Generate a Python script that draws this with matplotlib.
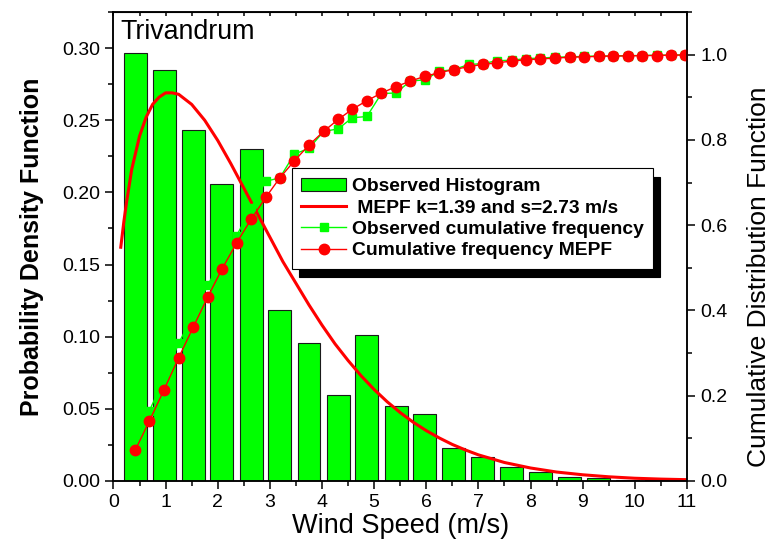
import matplotlib
matplotlib.use("Agg")
import matplotlib.pyplot as plt
from matplotlib.ticker import MultipleLocator

plt.rcParams['font.family'] = ['Liberation Sans', 'DejaVu Sans']

# histogram (bin centres, m/s) and observed densities
bin_centres = [0.42, 0.97, 1.53, 2.08, 2.64, 3.19, 3.75, 4.31, 4.86, 5.42,
               5.97, 6.53, 7.08, 7.64, 8.19, 8.75, 9.31, 9.86, 10.42]
hist_pdf = [0.2965, 0.2848, 0.2432, 0.2061, 0.230, 0.1187, 0.0956, 0.0597,
            0.1009, 0.0521, 0.0465, 0.0229, 0.0169, 0.0095, 0.006, 0.0025,
            0.0019, 0.0007, 0.0007]

# MEPF density curve
pdf_x = [0.14, 0.2, 0.25, 0.35, 0.5, 0.625, 0.75, 0.875, 1.0, 1.125, 1.25,
         1.5, 1.75, 2.0, 2.25, 2.5, 2.75, 3.0, 3.25, 3.5, 3.75, 4.0, 4.25,
         4.5, 4.75, 5.0, 5.25, 5.5, 5.75, 6.0, 6.25, 6.5, 6.75, 7.0, 7.5,
         8.0, 8.5, 9.0, 9.5, 10.0, 10.5, 11.0]
pdf_y = [0.162, 0.180, 0.193, 0.216, 0.239, 0.252, 0.261, 0.266, 0.269,
         0.269, 0.268, 0.261, 0.250, 0.236, 0.220, 0.203, 0.186, 0.169,
         0.152, 0.137, 0.122, 0.108, 0.095, 0.0835, 0.0729, 0.0634, 0.0549,
         0.0474, 0.0407, 0.0349, 0.0298, 0.0253, 0.0215, 0.0181, 0.0128,
         0.0090, 0.0062, 0.0043, 0.0029, 0.0019, 0.0013, 0.0009]

# cumulative frequencies
cdf_x = [0.42, 0.69, 0.97, 1.25, 1.53, 1.81, 2.08, 2.36, 2.64, 2.92, 3.19,
         3.47, 3.75, 4.03, 4.31, 4.58, 4.86, 5.14, 5.42, 5.69, 5.97, 6.25,
         6.53, 6.81, 7.08, 7.36, 7.64, 7.92, 8.19, 8.47, 8.75, 9.03, 9.31,
         9.58, 9.86, 10.14, 10.42, 10.69, 10.97]
obs_cdf = [0.077, 0.165, 0.24, 0.323, 0.39, 0.460, 0.52, 0.575, 0.64, 0.703,
           0.711, 0.767, 0.780, 0.820, 0.826, 0.852, 0.855, 0.909, 0.910,
           0.938, 0.941, 0.961, 0.965, 0.977, 0.979, 0.986, 0.987, 0.991,
           0.992, 0.994, 0.995, 0.996, 0.997, 0.997, 0.998, 0.998, 0.999,
           0.999, 1.000]
mepf_cdf = [0.073, 0.141, 0.214, 0.289, 0.361, 0.432, 0.497, 0.558, 0.614,
            0.665, 0.711, 0.751, 0.788, 0.820, 0.848, 0.872, 0.892, 0.910,
            0.925, 0.938, 0.949, 0.958, 0.965, 0.972, 0.977, 0.981, 0.985,
            0.988, 0.990, 0.992, 0.994, 0.995, 0.996, 0.997, 0.997, 0.998,
            0.998, 0.999, 0.999]

fig = plt.figure(figsize=(7.73, 5.48), dpi=100)
ax = fig.add_axes([0.1468, 0.1223, 0.7419, 0.8557])

bars = ax.bar(bin_centres, hist_pdf, width=0.44, color='#00ff00',
              edgecolor='#1a1a1a', linewidth=0.8, label='Observed Histogram')
line_pdf, = ax.plot(pdf_x, pdf_y, color='red', lw=2.2,
                    label=' MEPF k=1.39 and s=2.73 m/s')

ax.set_xlim(0, 11)
ax.set_ylim(0, 0.325)
ax.xaxis.set_major_locator(MultipleLocator(1))
ax.xaxis.set_minor_locator(MultipleLocator(0.5))
ax.yaxis.set_major_locator(MultipleLocator(0.05))
ax.yaxis.set_minor_locator(MultipleLocator(0.025))
ax.yaxis.set_major_formatter(matplotlib.ticker.FormatStrFormatter('%.2f'))
ax.tick_params(which='both', direction='out', width=1.1, labelsize=14)
ax.tick_params(which='major', length=6)
ax.tick_params(which='minor', length=3.5)
for s in ax.spines.values():
    s.set_linewidth(1.1)

top = ax.secondary_xaxis('top')
top.set_xticks([i * 0.5 for i in range(23)])
top.tick_params(direction='in', length=3, width=1.1, labeltop=False)

ax.set_xlabel('Wind Speed (m/s)', fontsize=19.5, labelpad=1)
ax.set_ylabel('Probability Density Function', fontsize=18,
              fontweight='bold', labelpad=13)
ax.text(0.012, 0.985, 'Trivandrum', transform=ax.transAxes, fontsize=19.3,
        va='top', ha='left')

ax2 = ax.twinx()
line_obs, = ax2.plot(cdf_x, obs_cdf, color='#00ff00', lw=1, marker='s',
                     ms=6, label='Observed cumulative frequency')
line_mepf, = ax2.plot(cdf_x, mepf_cdf, color='red', lw=1, marker='o',
                      ms=7.5, label='Cumulative frequency MEPF')
ax2.set_ylim(0, 1.1)
ax2.yaxis.set_major_locator(MultipleLocator(0.2))
ax2.yaxis.set_minor_locator(MultipleLocator(0.1))
ax2.yaxis.set_major_formatter(matplotlib.ticker.FormatStrFormatter('%.1f'))
ax2.tick_params(which='both', direction='out', width=1.1, labelsize=14)
ax2.tick_params(which='major', length=6)
ax2.tick_params(which='minor', length=3.5)
ax2.set_ylabel('Cumulative Distribution Function', fontsize=19)
ax2.yaxis.set_label_coords(1.104, 0.435)
for s in ax2.spines.values():
    s.set_linewidth(1.1)

leg = ax2.legend([bars, line_pdf, line_obs, line_mepf],
                 ['Observed Histogram', ' MEPF k=1.39 and s=2.73 m/s',
                  'Observed cumulative frequency', 'Cumulative frequency MEPF'],
                 loc='upper left', bbox_to_anchor=(0.311, 0.667),
                 borderaxespad=0, fancybox=False, framealpha=1,
                 edgecolor='black', prop={'weight': 'bold', 'size': 13.9},
                 handlelength=2.3, handletextpad=0.3, labelspacing=0.2,
                 borderpad=0.5,
                 shadow={'ox': 5, 'oy': -6, 'color': 'black', 'alpha': 1})
leg.get_frame().set_linewidth(0.8)

fig.savefig('out.png', dpi=100)
